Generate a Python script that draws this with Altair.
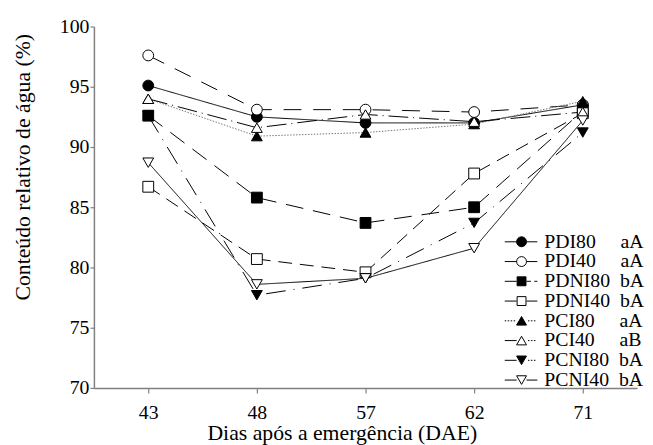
import json
import altair as alt
import pandas as pd

# ---- data ----
dae = ["43", "48", "57", "62", "71"]
series = ["PDI80", "PDI40", "PDNI80", "PDNI40", "PCI80", "PCI40", "PCNI80", "PCNI40"]
letters = ["aA", "aA", "bA", "bA", "aA", "aB", "bA", "bA"]

PDI80 = [95.1, 92.5, 92.0, 92.0, 93.5]
PDI40 = [97.6, 93.1, 93.1, 92.9, 93.5]
PDNI80 = [92.6, 85.8, 83.7, 85.0, 93.0]
PDNI40 = [86.7, 80.7, 79.6, 87.8, 92.8]
PCI80 = [94.0, 90.9, 91.2, 91.9, 93.8]
PCI40 = [94.0, 91.6, 92.7, 92.1, 92.9]
PCNI80 = [92.6, 77.7, 79.1, 83.7, 91.2]
PCNI40 = [88.7, 78.6, 79.1, 81.6, 92.2]
values = [PDI80, PDI40, PDNI80, PDNI40, PCI80, PCI40, PCNI80, PCNI40]

y_ticks = [70, 75, 80, 85, 90, 95, 100]

# ---- styles ----
shapes = ["circle", "circle", "square", "square",
          "triangle-up", "triangle-up", "triangle-down", "triangle-down"]
fills = ["black", "white"] * 4
dashes = [[1, 0], [18, 12], [18, 10], [14, 8], [1.5, 1.5], [20, 5, 1, 5], [20, 8, 1, 8], [1, 0]]
line_colors = ["black", "black", "black", "black", "#777777", "black", "black", "black"]

CIRC = "M-1,0A1,1,0,1,0,1,0A1,1,0,1,0,-1,0Z"
SQR = "M-0.9,-0.9H0.9V0.9H-0.9Z"
TUP = "M0,-0.87L1,0.87H-1Z"
TDN = "M0,0.87L1,-0.87H-1Z"
SOLID_L = "M-3.4,0H-1"
SOLID_R = "M1,0H3.2"
DOT_L = "M-3.4,0H-3.1M-2.8,0H-2.5M-2.2,0H-1.9M-1.6,0H-1.3"
DOT_R = "M1.3,0H1.6M1.9,0H2.2M2.5,0H2.8"
DASH_R = "M1,0H1.9M2.6,0H3.2"
legend_paths = [
    SOLID_L + SOLID_R + CIRC,
    SOLID_L + SOLID_R + CIRC,
    SOLID_L + DASH_R + SQR,
    SOLID_L + SOLID_R + SQR,
    DOT_L + DOT_R + TUP,
    SOLID_L + DOT_R + TUP,
    SOLID_L + DOT_R + TDN,
    SOLID_L + SOLID_R + TDN,
]

NB = "\u00a0"
pads = {"PDI80": 5, "PDI40": 5, "PDNI80": 2, "PDNI40": 2,
        "PCI80": 5, "PCI40": 5, "PCNI80": 2, "PCNI40": 2}
label_map = {s: NB * pads[s] + l for s, l in zip(series, letters)}
label_expr = "datum.label + " + json.dumps(label_map) + "[datum.label]"

rows = []
for s, vals in zip(series, values):
    for d, v in zip(dae, vals):
        rows.append({"series": s, "dae": d, "value": v})
df = pd.DataFrame(rows)

FONT = "Liberation Serif, Times New Roman, serif"

x_enc = alt.X(
    "dae:O",
    sort=dae,
    scale=alt.Scale(type="point", domain=dae, padding=0.5),
    axis=alt.Axis(title="Dias após a emergência (DAE)", labelAngle=0,
                  tickSize=5, labelPadding=10, titlePadding=0, titleX=251,
                  labelFont=FONT, titleFont=FONT,
                  labelFontSize=20, titleFontSize=22),
)
y_enc = alt.Y(
    "value:Q",
    scale=alt.Scale(domain=[70, 100], nice=False, zero=False),
    axis=alt.Axis(title="Conteúdo relativo de água (%)", values=y_ticks, grid=False,
                  tickSize=4, labelPadding=1, titlePadding=25, titleY=142,
                  labelFont=FONT, titleFont=FONT,
                  labelFontSize=20, titleFontSize=22),
)

lines = alt.Chart(df).mark_line(strokeWidth=1).encode(
    x=x_enc, y=y_enc,
    strokeDash=alt.StrokeDash("series:N", scale=alt.Scale(domain=series, range=dashes), legend=None),
    color=alt.Color("series:N", scale=alt.Scale(domain=series, range=line_colors), legend=None),
)

points = alt.Chart(df).mark_point(filled=True, size=120, stroke="black", strokeWidth=1, opacity=1).encode(
    x=x_enc, y=y_enc,
    shape=alt.Shape("series:N", scale=alt.Scale(domain=series, range=shapes), legend=None),
    fill=alt.Fill("series:N", scale=alt.Scale(domain=series, range=fills), legend=None),
)

leg = alt.Legend(title=None, orient="none", legendX=423, legendY=208, symbolSize=100,
                 symbolStrokeWidth=1, symbolStrokeColor="black", symbolOpacity=1,
                 labelFont=FONT, labelFontSize=20, labelColor="black", labelOffset=13,
                 rowPadding=0, padding=0, labelExpr=label_expr, labelLimit=0)

legend_layer = alt.Chart(df).transform_filter("false").mark_point(
    filled=True, size=100, stroke="black", strokeWidth=1, opacity=1
).encode(
    x=x_enc, y=y_enc,
    shape=alt.Shape("series:N", scale=alt.Scale(domain=series, range=legend_paths), legend=leg),
    fill=alt.Fill("series:N", scale=alt.Scale(domain=series, range=fills), legend=leg),
    stroke=alt.Stroke("series:N", scale=alt.Scale(domain=series, range=["black"] * 8), legend=leg),
)

chart = (
    alt.layer(lines, points, legend_layer)
    .resolve_scale(shape="independent", fill="independent", stroke="independent")
    .properties(width=550, height=366,
                padding={"left": 87, "top": 16, "right": 8, "bottom": 55},
                autosize=alt.AutoSizeParams(type="none"))
    .configure(font=FONT)
    .configure_view(stroke=None)
    .configure_axis(domainColor="#808080", tickColor="#808080", domainWidth=1.5, tickWidth=1.2,
                    labelColor="black", titleColor="black", titleFontWeight="normal")
)

chart.save("out.html", embed_options={"renderer": "svg", "actions": False})
